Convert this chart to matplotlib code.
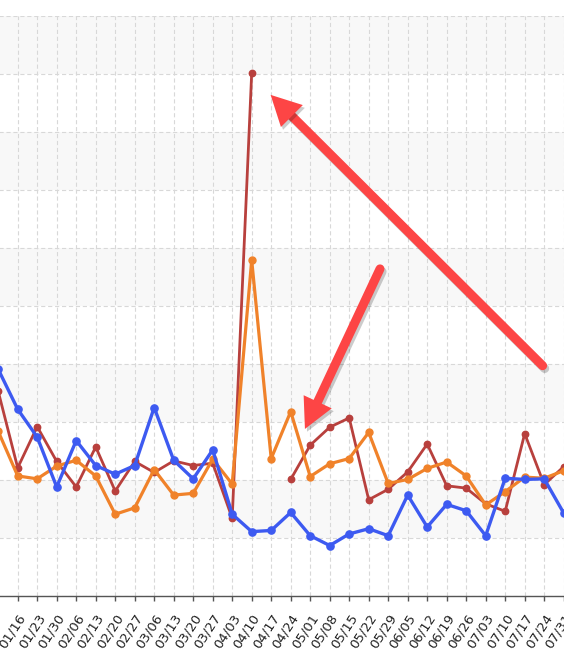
import matplotlib
matplotlib.use('Agg')
import matplotlib.pyplot as plt
import numpy as np
from matplotlib import patheffects as pe
from matplotlib.patches import Polygon
from matplotlib.lines import Line2D
from matplotlib.transforms import IdentityTransform, ScaledTranslation

plt.rcParams['lines.scale_dashes'] = False

dates = ['01/09', '01/16', '01/23', '01/30', '02/06', '02/13', '02/20', '02/27',
         '03/06', '03/13', '03/20', '03/27', '04/03', '04/10', '04/17', '04/24',
         '05/01', '05/08', '05/15', '05/22', '05/29', '06/05', '06/12', '06/19',
         '06/26', '07/03', '07/10', '07/17', '07/24', '07/31', '08/07']

blue = [39.1, 32.2, 27.4, 18.8, 26.8, 22.5, 21.0, 22.5, 32.5, 23.4,
        20.2, 25.2, 14.1, 11.1, 11.3, 14.4, 10.4, 8.7, 10.7, 11.6,
        10.4, 17.4, 11.9, 15.8, 14.7, 10.4, 20.3, 20.1, 20.2, 14.3]

red = [35.3, 22.1, 29.2, 23.2, 18.8, 25.7, 18.1, 23.2, 21.3, 23.3,
       22.5, 22.9, 13.4, 90.2, np.nan, 20.1, 26.0, 29.1, 30.7, 16.6,
       18.4, 21.4, 26.2, 19.0, 18.6, 15.9, 14.6, 28.0, 19.2, 22.3]

orange = [28.4, 20.7, 20.2, 22.4, 23.4, 20.7, 14.1, 15.2, 21.8, 17.4,
          17.7, 23.6, 19.3, 57.9, 23.7, 31.8, 20.6, 22.8, 23.7, 28.2,
          19.4, 20.1, 22.0, 23.1, 20.7, 15.7, 18.0, 20.5, 20.3, 21.6]

# annotation arrows: (tail, tip) in data coordinates (index, value)
arrows = [((27.92, 39.7), (13.97, 86.4)),
          ((19.58, 56.4), (15.73, 28.8))]

W, H = 564, 658
fig = plt.figure(figsize=(W / 100, H / 100), dpi=100)
fig.patch.set_facecolor('white')

xmin, xmax = -0.5, 30.5
left_px = -1.8 + 19.5 * xmin
right_px = -1.8 + 19.5 * xmax
top_px, bottom_px = 16, 596
ax = fig.add_axes([left_px / W, (H - bottom_px) / H,
                   (right_px - left_px) / W, (bottom_px - top_px) / H])
ax.set_xlim(xmin, xmax)
ax.set_ylim(0, 100)
ax.set_facecolor('white')

for lo in range(10, 100, 20):
    ax.axhspan(lo, lo + 10, color='#f8f8f8', zorder=0, lw=0)

x = np.arange(len(dates))
ax.set_xticks(x)
# the first label lies outside the visible crop in the reference
shown = [''] + dates[1:]
ax.set_xticklabels(shown, rotation=57, ha='right', rotation_mode='anchor',
                   fontsize=9.5, color='#222222')
shift = ScaledTranslation(-3 / 100, 0, fig.dpi_scale_trans)
for lab in ax.get_xticklabels():
    lab.set_transform(lab.get_transform() + shift)
ax.set_yticks(np.arange(0, 101, 10))
ax.tick_params(axis='y', left=False, labelleft=False)
ax.tick_params(axis='x', length=3.6, width=1.0, color='#555555', pad=7.5)
ax.grid(True, color='#d8d8d8', linestyle=(0, (3, 2)), linewidth=0.8, zorder=1)
ax.set_axisbelow(True)
for s in ['left', 'right', 'top']:
    ax.spines[s].set_visible(False)
ax.spines['bottom'].set_color('#555555')
ax.spines['bottom'].set_linewidth(1.0)

xs = x[:len(blue)]
ax.plot(xs, red, color='#b8403d', lw=2.0, marker='o', ms=4.6, zorder=3,
        solid_joinstyle='round')
ax.plot(xs, orange, color='#f0822a', lw=2.3, marker='o', ms=5.0, zorder=4,
        solid_joinstyle='round')
ax.plot(xs, blue, color='#3d5af1', lw=2.4, marker='o', ms=5.2, zorder=5,
        solid_joinstyle='round')

# arrows drawn in display pixels
arrow_color = '#fd4545'
shaft_px = 9
head_len, head_half = 30, 15.5
for tail, tip in arrows:
    t = ax.transData.transform(tail)
    p = ax.transData.transform(tip)
    d = p - t
    u = d / np.hypot(*d)
    perp = np.array([-u[1], u[0]])
    base = p - head_len * u
    shaft_end = base + 6 * u
    line = Line2D([t[0], shaft_end[0]], [t[1], shaft_end[1]],
                  transform=IdentityTransform(), color=arrow_color,
                  lw=shaft_px * 72 / 100, solid_capstyle='round', zorder=10,
                  path_effects=[pe.SimpleLineShadow(offset=(1.5, -2), alpha=0.2,
                                                    shadow_color='black'),
                                pe.Normal()])
    fig.add_artist(line)
    head = Polygon([p, base + head_half * perp, base - head_half * perp],
                   closed=True, transform=IdentityTransform(),
                   facecolor=arrow_color, edgecolor='none', zorder=11,
                   path_effects=[pe.SimplePatchShadow(offset=(1.5, -2), alpha=0.2,
                                                      shadow_rgbFace='black'),
                                 pe.Normal()])
    fig.add_artist(head)

fig.savefig('out.png', dpi=100)
